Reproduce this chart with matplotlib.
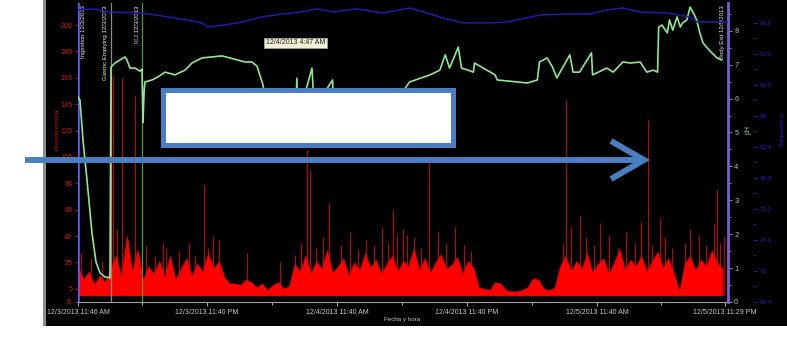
import numpy as np
import matplotlib.pyplot as plt
from matplotlib.patches import Rectangle
from matplotlib.lines import Line2D

plt.rcParams['font.family'] = ['Liberation Sans', 'DejaVu Sans']

# x axis: hours after 12/3/2013 11:46 AM
tick_hours = [0, 11.9, 23.9, 35.9, 47.9, 59.72]
tick_labels = ["12/3/2013 11:46 AM", "12/3/2013 11:40 PM", "12/4/2013 11:40 AM",
               "12/4/2013 11:40 PM", "12/5/2013 11:40 AM", "12/5/2013 11:29 PM"]
minor_hours = [5.95, 17.9, 29.9, 41.9, 53.8]

# pressure (mmHg), sampled every half hour
p_hours = np.arange(0, 60, 0.5)
p_vals = [22, 12, 18, 8, 15, 10, 20, 30, 14, 45, 18, 35, 12, 22, 16, 26, 14, 30, 12, 20,
          28, 15, 24, 18, 32, 20, 26, 14,
          9, 9, 8, 12, 10, 6, 9, 4, 8, 10, 5, 7,
          24, 18, 30, 16, 26, 20, 34, 17, 22, 28, 15, 25, 19, 32, 21, 27, 16, 24, 30, 18,
          26, 22, 36, 19, 28, 17, 25, 31, 20, 23, 29, 16, 26, 21, 6,
          5, 4, 10, 9, 4, 3, 3, 4, 6, 13, 12, 5, 4, 6,
          22, 30, 18, 26, 20, 32, 17, 24, 28, 16, 25, 35, 19, 27, 22, 30, 18, 26, 33, 21,
          28, 17, 3, 24, 30, 19, 27, 22, 34, 25, 20]

# isolated pressure peaks
spike_hours = [0.3, 1.2, 2.2, 3.2, 3.6, 4.1, 4.6, 5.3, 6.3, 7.1, 7.8, 8.1, 9.3, 10.2, 10.8,
               11.6, 12.0, 12.5, 13.0, 15.6, 18.6, 20.0, 20.6, 21.1, 21.4, 22.0, 22.6, 23.2,
               24.3, 25.1, 25.8, 26.6, 27.3, 28.1, 28.6, 29.1, 29.4, 30.0, 30.4, 31.0, 31.7,
               32.4, 33.2, 34.0, 34.8, 35.6, 36.3, 44.8, 45.0, 45.5, 46.3, 46.9, 47.6, 48.2,
               49.0, 49.8, 50.6, 51.4, 52.0, 52.6, 53.0, 53.7, 54.2, 54.8, 56.0, 56.5, 57.3,
               58.0, 58.7, 59.0, 59.3, 59.6]
spike_vals = [32, 28, 26, 167, 50, 165, 42, 152, 38, 30, 40, 36, 34, 40, 30,
              84, 36, 45, 42, 32, 25, 31, 40, 110, 95, 36, 44, 70,
              38, 48, 35, 42, 38, 52, 40, 65, 46, 50, 46, 44, 36,
              106, 48, 40, 52, 38, 34, 40, 148, 52, 60, 44, 38, 55,
              46, 36, 48, 40, 56, 133, 38, 59, 44, 36, 40, 50, 46,
              38, 54, 81, 40, 45]

# pH
ph_hours = [0, 0.18, 0.46, 0.83, 1.29, 1.66, 2.03, 2.49, 2.95, 3.05, 3.42, 3.88, 4.34, 4.52,
            4.80, 5.26, 5.72, 5.91, 6.0, 6.1, 6.18, 6.83, 7.38, 8.03, 8.95, 9.88, 10.52,
            11.45, 12.37, 13.29, 15.42, 16.06, 16.52, 17.08, 17.45, 17.91, 19.1, 20.1, 20.2,
            20.3, 21.6, 21.8, 23.5, 23.6, 26.0, 28.8, 30.6, 31.6, 32.5, 33.4, 33.9, 34.3,
            35.1, 35.4, 36.0, 36.5, 36.6, 38.5, 38.7, 41.5, 42.4, 42.6, 43.3, 43.8, 44.2,
            45.4, 45.7, 46.3, 47.4, 47.5, 48.8, 49.4, 50.3, 51.0, 51.9, 52.5, 53.1, 53.5,
            53.6, 53.9, 54.4, 54.6, 54.9, 55.3, 55.6, 55.8, 56.2, 56.5, 56.8, 57.1, 57.4,
            57.7, 58.1, 58.5, 59.0, 59.4]
ph_vals = [6.05, 5.96, 4.78, 3.60, 2.04, 1.18, 0.86, 0.74, 0.71, 6.93, 7.05, 7.14, 7.23, 7.14,
           6.90, 6.90, 6.81, 6.87, 5.3, 6.2, 6.49, 6.55, 6.64, 6.78, 6.70, 6.84, 7.05,
           7.20, 7.23, 7.26, 7.08, 7.08, 6.96, 6.40, 5.66, 5.22, 5.2, 5.5, 6.6,
           5.4, 6.9, 5.7, 6.55, 5.5, 5.4, 5.66, 6.49, 6.6, 6.7, 6.84, 7.29, 6.9,
           7.52, 6.9, 6.84, 6.78, 7.05, 6.70, 6.55, 6.46, 6.55, 7.08, 7.20, 6.93, 6.61,
           7.29, 6.78, 6.78, 7.35, 6.70, 6.90, 6.78, 7.08, 7.05, 7.08, 6.78, 6.84, 6.78,
           8.11, 8.17, 7.94, 8.32, 8.02, 8.41, 8.11, 8.23, 8.32, 8.70, 8.53, 8.32, 7.94,
           7.64, 7.49, 7.35, 7.20, 7.14]

# temperature
t_hours = [0, 1.57, 2.77, 5.91, 8.95, 10.52, 11.45, 12.0, 13.57, 15.14, 16.98, 18.18, 20.49,
           22.06, 23.54, 25.75, 28.15, 30.65, 32.22, 33.69, 35.54, 38.03, 39.6, 42.65, 45.14,
           47.26, 48.83, 50.31, 51.88, 54.37, 56.49, 57.14, 60.0]
t_vals = [98.31, 98.43, 98.08, 97.96, 97.38, 97.03, 96.80, 96.34, 96.57, 96.92, 97.50, 97.73,
          98.08, 98.43, 98.08, 98.43, 97.96, 98.54, 97.96, 97.38, 96.80, 96.80, 96.92, 97.73,
          97.85, 97.85, 98.31, 98.54, 98.08, 97.96, 97.50, 96.92, 96.92]

p_ticks = [-5, 5, 25, 45, 65, 85, 105, 125, 145, 165, 185, 205]
ph_ticks = [0, 1, 2, 3, 4, 5, 6, 7, 8]
t_ticks = [64.4, 68, 71.6, 75.2, 78.8, 82.4, 86, 89.6, 93.2, 96.8]
t_labels = ["64.4", "68", "71.6", "75.2", "78.8", "82.4", "86", "89.6", "93.2", "96.8"]

events = [(0.55, "Ingestion 12/3/2013"), (2.58, "Gastric Emptying 12/3/2013"),
          (5.45, "ICJ 12/3/2013"), (59.45, "Body Exit 12/5/2013")]

W, H = 787, 338
fx = lambda px: px / W
fy = lambda py: 1 - py / H

fig = plt.figure(figsize=(7.87, 3.38), dpi=100)
fig.patch.set_facecolor('white')

# dark panel behind the chart
fig.add_artist(Rectangle((fx(43), fy(326)), 1 - fx(43), 326 / H, transform=fig.transFigure,
                         facecolor='black', edgecolor='none', zorder=-10))
fig.add_artist(Rectangle((fx(43), fy(326)), 3 / W, 326 / H, transform=fig.transFigure,
                         facecolor='#8c8c8c', edgecolor='none', zorder=-9))

ax = fig.add_axes([fx(78), fy(302), 650 / W, 299 / H])
ax.set_facecolor('black')
ax.set_xlim(0, 60)
ax.set_ylim(-5, 221.7)

ax.vlines(spike_hours, 0, spike_vals, color='#d00000', lw=0.7, zorder=1.5)
ax.fill_between(p_hours, 0, p_vals, color='#ff0000', lw=0.4, zorder=2)

ax.axvline(0.05, color='#5a5aff', lw=1.2, zorder=3)
ax.axvline(3.0, color='#8a8a8a', lw=0.9, zorder=3)
ax.axvline(5.9, color='#3da23d', lw=0.9, zorder=3)
for h, label in events:
    ax.text(h, 220, label, rotation=90, ha='center', va='top', color='#e6e6e6',
            fontsize=4.3, zorder=4)

ax.set_yticks(p_ticks)
ax.set_yticklabels([str(v) for v in p_ticks])
ax.tick_params(axis='y', colors='#d41414', labelsize=5.2, length=2.5, width=0.6, pad=1.5)
ax.set_xticks(tick_hours)
ax.set_xticklabels(tick_labels)
ax.set_xticks(minor_hours, minor=True)
ax.tick_params(axis='x', which='major', colors='#c8c8c8', labelsize=5, length=3, width=0.6,
               pad=2)
ax.tick_params(axis='x', which='minor', colors='#c8c8c8', length=2, width=0.6)
ax.spines['left'].set_color('#5a5aff')
ax.spines['bottom'].set_color('#a0a0a0')
ax.spines['top'].set_visible(False)
ax.spines['right'].set_visible(False)

# pH axis
ax_ph = ax.twinx()
ax_ph.set_ylim(0, 8.82)
ax_ph.plot(ph_hours, ph_vals, color='#8fe88f', lw=1.2)
ax_ph.set_yticks(ph_ticks)
ax_ph.set_yticks([v + 0.5 for v in ph_ticks], minor=True)
ax_ph.tick_params(axis='y', which='major', color='#a0a0a0', labelcolor='#86d886',
                  labelsize=5.5, length=3, width=0.6, pad=1.5)
ax_ph.tick_params(axis='y', which='minor', color='#a0a0a0', length=2, width=0.6)
for side in ['left', 'top', 'bottom']:
    ax_ph.spines[side].set_visible(False)
ax_ph.spines['right'].set_color('#7c5cd8')
ax_ph.spines['right'].set_linewidth(2)

# temperature axis
ax_t = ax.twinx()
ax_t.set_ylim(64.4, 99.12)
ax_t.plot(t_hours, t_vals, color='#1c1cb0', lw=1.1)
ax_t.spines['right'].set_position(('axes', (753 - 78) / 650))
for side in ['left', 'top', 'bottom', 'right']:
    ax_t.spines[side].set_visible(False)
ax_t.set_yticks(t_ticks)
ax_t.set_yticklabels(t_labels)
ax_t.set_yticks([v + 1.8 for v in t_ticks[:-1]], minor=True)
ax_t.tick_params(axis='y', which='major', colors='#2020c8', labelsize=4.5, length=3,
                 width=0.6, pad=1.5)
ax_t.tick_params(axis='y', which='minor', colors='#2020c8', length=2, width=0.6)

fig.text(fx(402), fy(319), 'Fecha y hora', color='#c8c8c8', fontsize=4.5,
         ha='center', va='center')
fig.text(fx(57), fy(130), 'presión mmHg', rotation=90, color='#c81414', fontsize=4.5,
         ha='center', va='center')
fig.text(fx(748), fy(130), 'pH', rotation=90, color='#86d886', fontsize=5,
         ha='center', va='center')
fig.text(fx(782), fy(130), 'Temperatura', rotation=90, color='#2020c8', fontsize=4.5,
         ha='center', va='center')
fig.text(fx(266), fy(43), '12/4/2013 4:47 AM', color='#202020', fontsize=5,
         ha='left', va='center',
         bbox=dict(boxstyle='square,pad=0.25', fc='#f3efd6', ec='#a8a088', lw=0.6))

# highlight box and arrow
blue = '#4a7ec2'
fig.add_artist(Rectangle((fx(162.5), fy(144.5)), 290 / W, 54 / H, transform=fig.transFigure,
                         facecolor='white', edgecolor=blue, lw=3.6, zorder=5))
fig.add_artist(Line2D([fx(25), fx(640)], [fy(160), fy(160)], transform=fig.transFigure,
                      color=blue, lw=4.3, solid_capstyle='butt', zorder=5))
fig.add_artist(Line2D([fx(611), fx(644), fx(611)], [fy(141), fy(160), fy(179)],
                      transform=fig.transFigure, color=blue, lw=4.3,
                      solid_capstyle='butt', solid_joinstyle='miter', zorder=5))

fig.savefig('out.png', dpi=100)
